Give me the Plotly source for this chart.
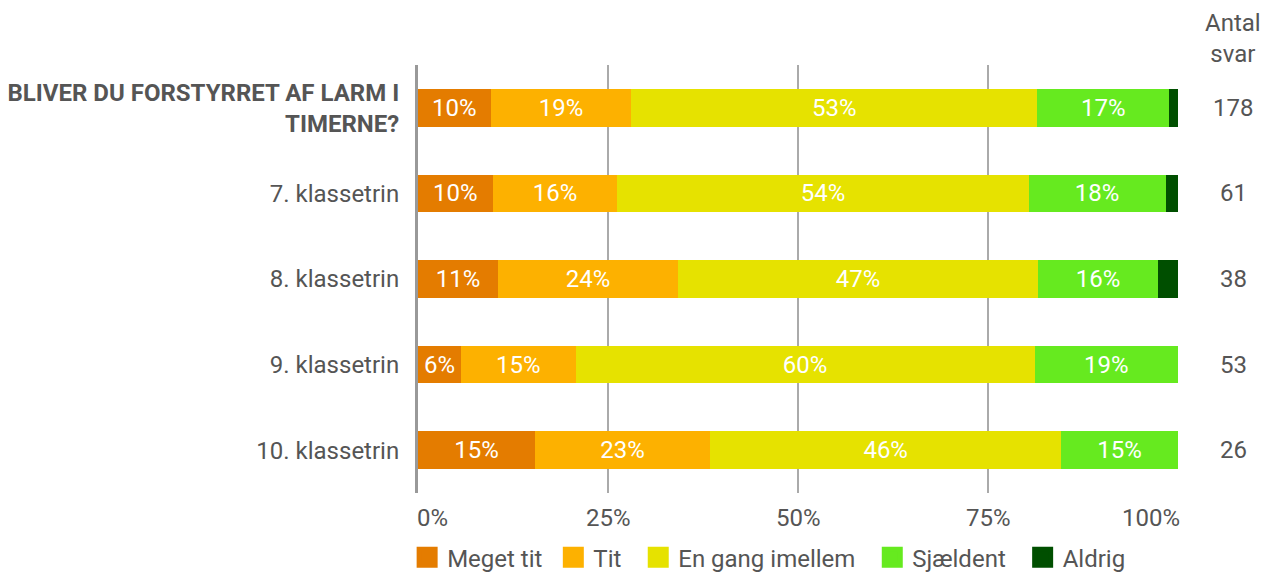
import plotly.graph_objects as go

categories = ["<b>BLIVER DU FORSTYRRET AF LARM I<br>TIMERNE?</b>", "7. klassetrin", "8. klassetrin", "9. klassetrin", "10. klassetrin"]
counts = [178, 61, 38, 53, 26]

series_names = ["Meget tit", "Tit", "En gang imellem", "Sjældent", "Aldrig"]
meget_tit = [9.55, 9.84, 10.53, 5.66, 15.38]
tit = [18.54, 16.39, 23.68, 15.09, 23.08]
en_gang = [53.37, 54.10, 47.37, 60.38, 46.15]
sjaeldent = [17.42, 18.03, 15.79, 18.87, 15.38]
aldrig = [1.12, 1.64, 2.63, 0.0, 0.0]

tick_vals = [0, 25, 50, 75, 100]
tick_text = ["0%", "25%", "50%", "75%", "100%"]

colors = ["#E47C00", "#FDB100", "#E6E200", "#66EA1F", "#004F00"]
values = [meget_tit, tit, en_gang, sjaeldent, aldrig]
legend_pad = [1, 2, 2, 2, 0]  # extra spacing after each legend entry

FONT = "Roboto"
TXT = "#555555"

fig = go.Figure()
for name, vals, col in zip(series_names, values, colors):
    texts = [f"{round(v)}%" if v >= 4 else "" for v in vals]
    fig.add_trace(go.Bar(
        y=categories, x=vals, name=name, orientation="h",
        legendgroup=name, showlegend=False,
        marker=dict(color=col, line=dict(width=0)),
        text=texts, textposition="inside", insidetextanchor="middle",
        textfont=dict(color="white", size=24, family=FONT),
        hoverinfo="x+name",
    ))
# legend entries with larger square symbols
for name, col, pad in zip(series_names, colors, legend_pad):
    fig.add_trace(go.Scatter(
        x=[None], y=[None], mode="markers", name=name + "\u00a0" * pad, legendgroup=name,
        marker=dict(symbol="square", size=16, color=col, line=dict(color=col, width=5)),
        showlegend=True, hoverinfo="skip",
    ))

annotations = [dict(xref="paper", yref="paper", x=1.073, y=1.063, yanchor="middle",
                    xanchor="center", text="Antal<br>svar", showarrow=False,
                    font=dict(size=24, color=TXT, family=FONT))]
for c, n in zip(categories, counts):
    annotations.append(dict(xref="paper", yref="y", x=1.073, y=c, text=str(n),
                            xanchor="center", showarrow=False,
                            font=dict(size=24, color=TXT, family=FONT)))
for v, t in zip(tick_vals, tick_text):
    anchor = "left" if v == 0 else ("right" if v == 100 else "center")
    xs = -3 if v == 0 else (4 if v == 100 else 0)
    annotations.append(dict(xref="x", yref="paper", x=v, y=-0.059, yanchor="middle",
                            xanchor=anchor, xshift=xs, text=t, showarrow=False,
                            font=dict(size=24, color=TXT, family=FONT)))

fig.update_layout(
    barmode="stack",
    bargap=0.56,
    width=1263, height=573,
    margin=dict(l=418, r=85, t=65, b=80, autoexpand=False),
    paper_bgcolor="white", plot_bgcolor="white",
    font=dict(family=FONT, size=24, color=TXT),
    uniformtext=dict(minsize=24, mode="show"),
    legend=dict(orientation="h", x=-0.0143, xanchor="left", y=-0.151, yanchor="middle",
                font=dict(size=24, color=TXT, family=FONT), traceorder="normal",
                itemwidth=30, tracegroupgap=0, itemclick=False, itemdoubleclick=False),
    xaxis=dict(range=[0, 100], tickvals=tick_vals, showticklabels=False,
               showgrid=True, gridcolor="#AAAAAA", gridwidth=1.5,
               zeroline=False, showline=False, ticks="", fixedrange=True),
    yaxis=dict(autorange="reversed", showgrid=False, zeroline=False,
               showline=True, linecolor="#999999", linewidth=3,
               ticks="", ticklabelstandoff=11, fixedrange=True,
               tickfont=dict(size=24, color=TXT, family=FONT)),
    annotations=annotations,
    showlegend=True,
)
fig.update_yaxes(categoryorder="array", categoryarray=categories)

fig.write_html("out.html", config={"displayModeBar": False},
               post_script="document.body.style.margin='0';document.body.style.overflow='hidden';")
